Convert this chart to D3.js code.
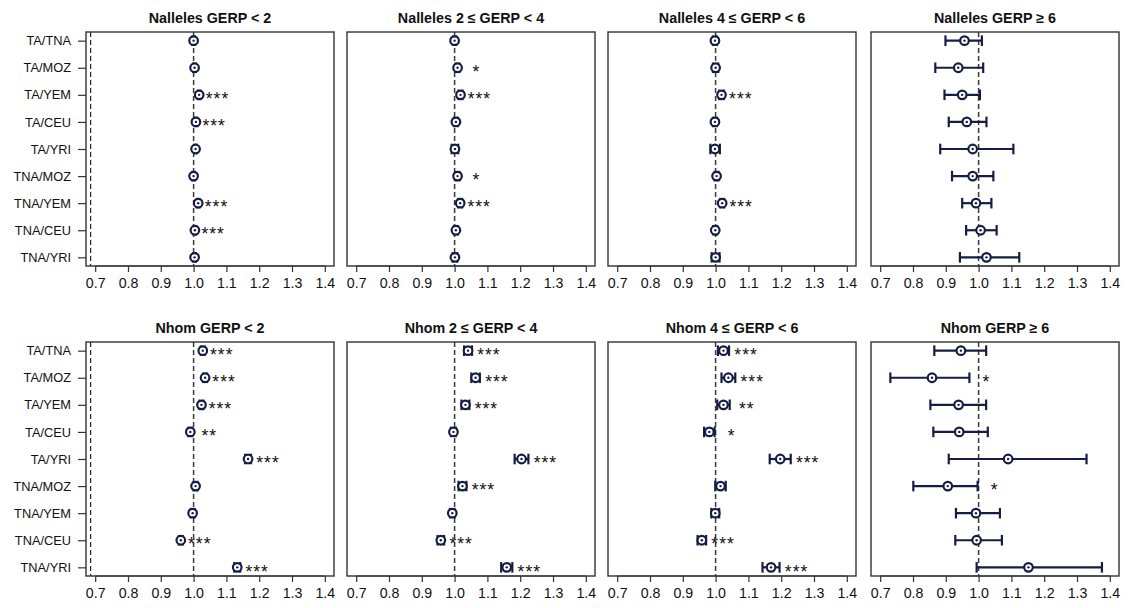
<!DOCTYPE html>
<html>
<head>
<meta charset="utf-8">
<script src="https://cdn.jsdelivr.net/npm/d3@7"></script>
<style>
  body { margin: 0; background: #fff; }
  text { font-family: "Liberation Sans", Arial, Helvetica, sans-serif; }
</style>
</head>
<body>
<div id="frame"></div>
<script>
// row labels, top to bottom
var pairs = ["TA/TNA", "TA/MOZ", "TA/YEM", "TA/CEU", "TA/YRI", "TNA/MOZ", "TNA/YEM", "TNA/CEU", "TNA/YRI"];

var titles = ["Nalleles GERP < 2", "Nalleles 2 \u2264 GERP < 4", "Nalleles 4 \u2264 GERP < 6", "Nalleles GERP \u2265 6",
              "Nhom GERP < 2", "Nhom 2 \u2264 GERP < 4", "Nhom 4 \u2264 GERP < 6", "Nhom GERP \u2265 6"];

var xTicks = [0.7, 0.8, 0.9, 1.0, 1.1, 1.2, 1.3, 1.4];
var refLine = 1.0;
var leftRefLine = 0.686; // the extra dashed line seen in the left column

// Nalleles GERP < 2
var nallLt2Est = [1.000, 1.003, 1.017, 1.007, 1.006, 1.000, 1.014, 1.004, 1.003];
var nallLt2Lo  = [0.996, 0.999, 1.013, 1.003, 1.002, 0.996, 1.010, 1.000, 0.999];
var nallLt2Hi  = [1.004, 1.007, 1.021, 1.011, 1.010, 1.004, 1.018, 1.008, 1.007];
var nallLt2Sig = ["", "", "***", "***", "", "", "***", "***", ""];

// Nalleles 2 <= GERP < 4
var nall2to4Est = [1.000, 1.009, 1.018, 1.004, 1.001, 1.009, 1.017, 1.004, 1.001];
var nall2to4Lo  = [0.995, 1.003, 1.012, 0.998, 0.991, 1.003, 1.011, 0.998, 0.994];
var nall2to4Hi  = [1.005, 1.015, 1.024, 1.010, 1.011, 1.015, 1.023, 1.010, 1.008];
var nall2to4Sig = ["", "*", "***", "", "", "*", "***", "", ""];

// Nalleles 4 <= GERP < 6
var nall4to6Est = [0.998, 1.000, 1.018, 0.998, 0.998, 1.003, 1.020, 0.999, 1.000];
var nall4to6Lo  = [0.992, 0.992, 1.011, 0.992, 0.984, 0.997, 1.014, 0.993, 0.988];
var nall4to6Hi  = [1.004, 1.008, 1.025, 1.004, 1.013, 1.009, 1.026, 1.005, 1.012];
var nall4to6Sig = ["", "", "***", "", "", "", "***", "", ""];

// Nalleles GERP >= 6
var nallGe6Est = [0.957, 0.938, 0.950, 0.964, 0.982, 0.982, 0.992, 1.006, 1.024];
var nallGe6Lo  = [0.899, 0.868, 0.896, 0.909, 0.883, 0.919, 0.950, 0.962, 0.943];
var nallGe6Hi  = [1.010, 1.014, 1.004, 1.024, 1.106, 1.045, 1.039, 1.055, 1.124];
var nallGe6Sig = ["", "", "", "", "", "", "", "", ""];

// Nhom GERP < 2
var nhomLt2Est = [1.028, 1.035, 1.024, 0.990, 1.166, 1.006, 0.997, 0.961, 1.133];
var nhomLt2Lo  = [1.022, 1.029, 1.018, 0.984, 1.157, 1.000, 0.991, 0.955, 1.124];
var nhomLt2Hi  = [1.034, 1.041, 1.030, 0.996, 1.175, 1.012, 1.003, 0.967, 1.142];
var nhomLt2Sig = ["***", "***", "***", "**", "***", "", "", "***", "***"];

// Nhom 2 <= GERP < 4
var nhom2to4Est = [1.041, 1.064, 1.033, 0.9965, 1.204, 1.024, 0.993, 0.958, 1.159];
var nhom2to4Lo  = [1.029, 1.051, 1.021, 0.989, 1.183, 1.012, 0.986, 0.948, 1.142];
var nhom2to4Hi  = [1.053, 1.077, 1.045, 1.004, 1.225, 1.036, 1.000, 0.968, 1.176];
var nhom2to4Sig = ["***", "***", "***", "", "***", "***", "", "***", "***"];

// Nhom 4 <= GERP < 6
var nhom4to6Est = [1.024, 1.039, 1.024, 0.981, 1.197, 1.015, 0.999, 0.958, 1.169];
var nhom4to6Lo  = [1.007, 1.018, 1.005, 0.965, 1.165, 0.999, 0.987, 0.945, 1.143];
var nhom4to6Hi  = [1.041, 1.060, 1.043, 0.997, 1.229, 1.031, 1.011, 0.971, 1.195];
var nhom4to6Sig = ["***", "***", "**", "*", "***", "", "", "***", "***"];

// Nhom GERP >= 6
var nhomGe6Est = [0.946, 0.858, 0.939, 0.941, 1.090, 0.906, 0.992, 0.994, 1.152];
var nhomGe6Lo  = [0.865, 0.731, 0.853, 0.862, 0.909, 0.801, 0.931, 0.929, 0.994];
var nhomGe6Hi  = [1.023, 0.972, 1.023, 1.028, 1.329, 0.997, 1.065, 1.071, 1.376];
var nhomGe6Sig = ["", "*", "", "", "", "*", "", "", ""];

var panels = [
  [nallLt2Est, nallLt2Lo, nallLt2Hi, nallLt2Sig],
  [nall2to4Est, nall2to4Lo, nall2to4Hi, nall2to4Sig],
  [nall4to6Est, nall4to6Lo, nall4to6Hi, nall4to6Sig],
  [nallGe6Est, nallGe6Lo, nallGe6Hi, nallGe6Sig],
  [nhomLt2Est, nhomLt2Lo, nhomLt2Hi, nhomLt2Sig],
  [nhom2to4Est, nhom2to4Lo, nhom2to4Hi, nhom2to4Sig],
  [nhom4to6Est, nhom4to6Lo, nhom4to6Hi, nhom4to6Sig],
  [nhomGe6Est, nhomGe6Lo, nhomGe6Hi, nhomGe6Sig]
];

var navy = "#161d45";
var W = 1133, H = 608;
var lefts = [86, 347, 608, 871];
var tops = [32, 342];
var pw = 248, ph = 234;

var svg = d3.select('#frame').append('svg').attr('width', W).attr('height', H);

panels.forEach(function(p, i) {
  var col = i % 4, row = Math.floor(i / 4);
  var x0 = lefts[col], y0 = tops[row];
  var g = svg.append("g").attr("transform", "translate(" + x0 + "," + y0 + ")");

  var x = d3.scaleLinear().domain([0.672, 1.428]).range([0, pw]);
  // rows 1..9, R-style 4% padding
  var y = d3.scaleLinear().domain([0.68, 9.32]).range([0, ph]);

  var rows = pairs.map(function(name, k) {
    return { name: name, pos: k + 1, est: p[0][k], lo: p[1][k], hi: p[2][k], sig: p[3][k] };
  });

  // dashed reference lines
  g.append("line")
    .attr("x1", x(refLine)).attr("x2", x(refLine))
    .attr("y1", 0).attr("y2", ph)
    .attr("stroke", "#3a3a3a").attr("stroke-width", 1.5)
    .attr("stroke-dasharray", "5,3");
  if (col == 0) {
    g.append("line")
      .attr("x1", x(leftRefLine)).attr("x2", x(leftRefLine))
      .attr("y1", 0).attr("y2", ph)
      .attr("stroke", "#222").attr("stroke-width", 1.2)
      .attr("stroke-dasharray", "5,3");
  }

  // box
  g.append("rect")
    .attr("x", 0).attr("y", 0).attr("width", pw).attr("height", ph)
    .attr("fill", "none").attr("stroke", "#333").attr("stroke-width", 1.4);

  // x axis
  var xAxis = d3.axisBottom(x).tickValues(xTicks).tickFormat(d3.format(".1f")).tickSize(6).tickPadding(6);
  var ax = g.append("g").attr("transform", "translate(0," + ph + ")").call(xAxis);
  ax.select(".domain").attr("d", "M" + x(0.7) + ",0H" + x(1.4)).attr("stroke", "#333").attr("stroke-width", 1.2);
  ax.selectAll(".tick line").attr("stroke", "#333").attr("stroke-width", 1.2);
  ax.selectAll(".tick text").attr("font-size", 14.2).attr("fill", "#111")
    .style("font-family", '"Liberation Sans", Arial, sans-serif');

  // y axis (left column only)
  if (col == 0) {
    var yAxis = d3.axisLeft(y).tickValues(rows.map(function(r) { return r.pos; }))
      .tickFormat(function(d) { return pairs[d - 1]; }).tickSize(8).tickPadding(7);
    var ay = g.append("g").call(yAxis);
    ay.select(".domain").remove();
    ay.selectAll(".tick line").attr("stroke", "#333").attr("stroke-width", 1.2);
    ay.selectAll(".tick text").attr("font-size", 12.8).attr("fill", "#111")
      .style("font-family", '"Liberation Sans", Arial, sans-serif');
  }

  // title
  g.append("text")
    .attr("x", pw / 2).attr("y", -9.5)
    .attr("text-anchor", "middle")
    .attr("font-size", 14.3).attr("font-weight", "bold").attr("fill", "#111")
    .text(titles[i]);

  // error bars
  var eb = g.selectAll(".eb").data(rows).enter().append("g").attr("class", "eb");
  eb.append("line")
    .attr("x1", function(d) { return x(d.lo); }).attr("x2", function(d) { return x(d.hi); })
    .attr("y1", function(d) { return y(d.pos); }).attr("y2", function(d) { return y(d.pos); })
    .attr("stroke", navy).attr("stroke-width", 2.2);
  eb.append("line")
    .attr("x1", function(d) { return x(d.lo); }).attr("x2", function(d) { return x(d.lo); })
    .attr("y1", function(d) { return y(d.pos) - 5.3; }).attr("y2", function(d) { return y(d.pos) + 5.3; })
    .attr("stroke", navy).attr("stroke-width", 2.2);
  eb.append("line")
    .attr("x1", function(d) { return x(d.hi); }).attr("x2", function(d) { return x(d.hi); })
    .attr("y1", function(d) { return y(d.pos) - 5.3; }).attr("y2", function(d) { return y(d.pos) + 5.3; })
    .attr("stroke", navy).attr("stroke-width", 2.2);

  // point estimates
  eb.append("circle")
    .attr("cx", function(d) { return x(d.est); }).attr("cy", function(d) { return y(d.pos); })
    .attr("r", 4.3)
    .attr("fill", "#fff").attr("stroke", navy).attr("stroke-width", 2.2);
  eb.append("circle")
    .attr("cx", function(d) { return x(d.est); }).attr("cy", function(d) { return y(d.pos); })
    .attr("r", 1.2)
    .attr("fill", navy);

  // significance stars
  g.selectAll(".sig").data(rows.filter(function(d) { return d.sig; })).enter()
    .append("text")
    .attr("class", "sig")
    .attr("x", function(d) { return x(d.hi) + 17; })
    .attr("y", function(d) { return y(d.pos) + 10.2; })
    .attr("text-anchor", "middle")
    .attr("font-size", 17.5).attr("letter-spacing", 1).attr("fill", "#111")
    .text(function(d) { return d.sig; });
});
</script>
</body>
</html>
